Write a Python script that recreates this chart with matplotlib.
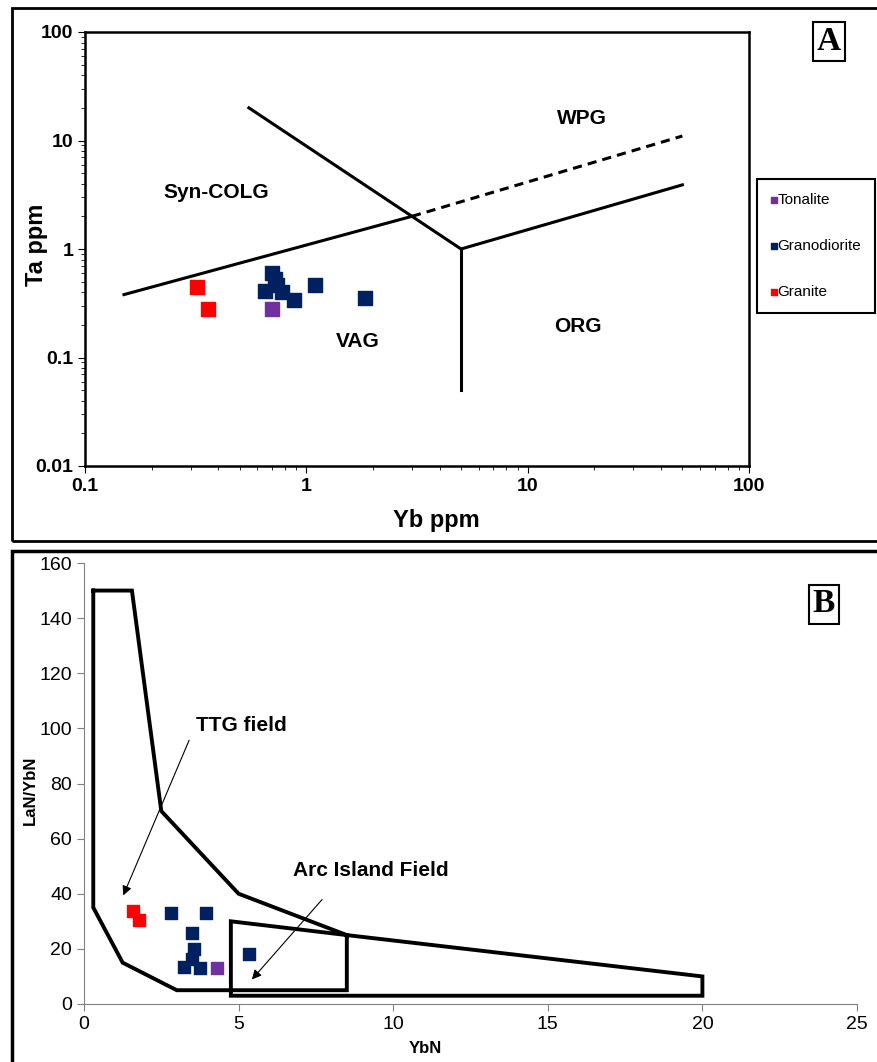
import matplotlib
matplotlib.use('Agg')
import matplotlib.pyplot as plt
from matplotlib.patches import Rectangle

plt.rcParams['font.family'] = ['Liberation Sans', 'DejaVu Sans']

# ---- data: panel A (Yb vs Ta, ppm) ----
ton_yb = [0.70]
ton_ta = [0.28]
grd_yb = [0.70, 0.72, 0.74, 0.65, 0.78, 0.88, 1.10, 1.85]
grd_ta = [0.60, 0.53, 0.47, 0.41, 0.40, 0.34, 0.47, 0.35]
gra_yb = [0.32, 0.36]
gra_ta = [0.45, 0.28]

# discrimination boundaries (Pearce et al.)
colg_vag_x = [0.15, 3.0]
colg_vag_y = [0.38, 2.0]
colg_wpg_x = [3.0, 50]
colg_wpg_y = [2.0, 11.0]
wpg_x = [0.55, 5.0, 50]
wpg_y = [20.0, 1.0, 3.9]
org_x = [5.0, 5.0]
org_y = [1.0, 0.05]

# ---- data: panel B (YbN vs LaN/YbN) ----
ton_ybn = [4.3]
ton_la = [13.1]
grd_ybn = [2.8, 3.94, 3.49, 3.56, 3.5, 3.23, 3.74, 5.33]
grd_la = [33.0, 33.0, 25.9, 20.1, 16.5, 13.5, 13.1, 18.3]
gra_ybn = [1.59, 1.78]
gra_la = [33.9, 30.6]

field_x = [0.3, 1.55, 2.5, 5.0, 8.5, 20, 20, 4.75, 4.75, 8.5, 8.5, 3.0, 1.25, 0.3, 0.3]
field_y = [150, 150, 70, 40, 25, 10, 3, 3, 30, 25, 5, 5, 15, 35, 150]

c_ton = '#7030a0'
c_grd = '#002060'
c_gra = '#ff0000'

fig = plt.figure(figsize=(8.77, 10.62), dpi=100)

# panel frames
fig.patches.append(Rectangle((12 / 877, 1 - 541 / 1062), 870 / 877, 533 / 1062,
                             transform=fig.transFigure, fill=False, lw=2, ec='black'))
fig.patches.append(Rectangle((12 / 877, 1 - 1070 / 1062), 870 / 877, 519 / 1062,
                             transform=fig.transFigure, fill=False, lw=2.5, ec='black'))

# ================= panel A =================
ax1 = fig.add_axes([85 / 877, 1 - 466 / 1062, 664 / 877, 434 / 1062])
ax1.set_xscale('log')
ax1.set_yscale('log')
ax1.set_xlim(0.1, 100)
ax1.set_ylim(0.01, 100)

ax1.plot(colg_vag_x, colg_vag_y, color='black', lw=2.2)
ax1.plot(colg_wpg_x, colg_wpg_y, color='black', lw=2.2, ls=(0, (3, 2)))
ax1.plot(wpg_x, wpg_y, color='black', lw=2.2)
ax1.plot(org_x, org_y, color='black', lw=2.2)

ax1.scatter(ton_yb, ton_ta, marker='s', s=100, color=c_ton, label='Tonalite', zorder=3)
ax1.scatter(grd_yb, grd_ta, marker='s', s=100, color=c_grd, label='Granodiorite', zorder=3)
ax1.scatter(gra_yb, gra_ta, marker='s', s=100, color=c_gra, label='Granite', zorder=3)

ax1.text(0.39, 3.35, 'Syn-COLG', fontsize=15, fontweight='bold', ha='center', va='center')
ax1.text(17.5, 15.8, 'WPG', fontsize=15, fontweight='bold', ha='center', va='center')
ax1.text(1.7, 0.139, 'VAG', fontsize=15, fontweight='bold', ha='center', va='center')
ax1.text(16.8, 0.195, 'ORG', fontsize=15, fontweight='bold', ha='center', va='center')

for s in ax1.spines.values():
    s.set_linewidth(1.8)
ax1.tick_params(which='both', direction='out', labelsize=14)
ax1.tick_params(which='major', length=5)
ax1.tick_params(which='minor', length=3)
ax1.set_xticks([0.1, 1, 10, 100])
ax1.set_xticklabels(['0.1', '1', '10', '100'])
ax1.set_yticks([0.01, 0.1, 1, 10, 100])
ax1.set_yticklabels(['0.01', '0.1', '1', '10', '100'])
for lab in ax1.get_xticklabels() + ax1.get_yticklabels():
    lab.set_fontweight('bold')

ax1.set_xlabel('Yb ppm', fontsize=17, fontweight='bold')
ax1.set_ylabel('Ta ppm', fontsize=17, fontweight='bold')
ax1.xaxis.set_label_coords(0.5286, -0.1)
ax1.yaxis.set_label_coords(-0.055, 0.509)

leg = ax1.legend(loc='center left', bbox_to_anchor=(757 / 877, 1 - 246 / 1062),
                 bbox_transform=fig.transFigure, fontsize=11, markerscale=0.5,
                 handlelength=0.4, handletextpad=0.05, labelspacing=2.1,
                 borderpad=0.9, borderaxespad=0, fancybox=False, framealpha=1,
                 edgecolor='black')
leg.get_frame().set_linewidth(1.5)

fig.text(829 / 877, 1 - 41 / 1062, 'A', fontsize=24, fontweight='bold',
         family='Liberation Serif', ha='center', va='center',
         bbox=dict(boxstyle='square,pad=0.12', fc='white', ec='black', lw=1.5))

# ================= panel B =================
ax2 = fig.add_axes([84 / 877, 1 - 1004 / 1062, 773 / 877, 441 / 1062])
ax2.set_xlim(0, 25)
ax2.set_ylim(0, 160)

ax2.plot(field_x, field_y, color='black', lw=2.8, solid_joinstyle='miter')

ax2.scatter(ton_ybn, ton_la, marker='s', s=85, color=c_ton, zorder=3)
ax2.scatter(grd_ybn, grd_la, marker='s', s=85, color=c_grd, zorder=3)
ax2.scatter(gra_ybn, gra_la, marker='s', s=85, color=c_gra, zorder=3)

ax2.annotate('', xy=(1.27, 39.4), xytext=(3.4, 95.7),
             arrowprops=dict(arrowstyle='-|>', color='black', lw=0.8,
                             mutation_scale=14, shrinkA=0, shrinkB=0))
ax2.text(5.1, 101, 'TTG field', fontsize=15, fontweight='bold', ha='center', va='center')
ax2.annotate('', xy=(5.43, 8.9), xytext=(7.7, 37.9),
             arrowprops=dict(arrowstyle='-|>', color='black', lw=0.8,
                             mutation_scale=14, shrinkA=0, shrinkB=0))
ax2.text(9.28, 48.4, 'Arc Island Field', fontsize=15, fontweight='bold', ha='center', va='center')

ax2.spines['top'].set_visible(False)
ax2.spines['right'].set_visible(False)
ax2.spines['left'].set_color('#808080')
ax2.spines['bottom'].set_color('#808080')
ax2.set_xticks([0, 5, 10, 15, 20, 25])
ax2.set_yticks(range(0, 161, 20))
ax2.tick_params(direction='out', length=5, color='#808080', labelsize=14)

ax2.set_xlabel('YbN', fontsize=12, fontweight='bold')
ax2.set_ylabel('LaN/YbN', fontsize=12, fontweight='bold')
ax2.xaxis.set_label_coords(0.441, -0.085)
ax2.yaxis.set_label_coords(-0.06, 0.485)

fig.text(824 / 877, 1 - 604 / 1062, 'B', fontsize=24, fontweight='bold',
         family='Liberation Serif', ha='center', va='center',
         bbox=dict(boxstyle='square,pad=0.12', fc='white', ec='black', lw=1.5))

fig.savefig('out.png', dpi=100)
